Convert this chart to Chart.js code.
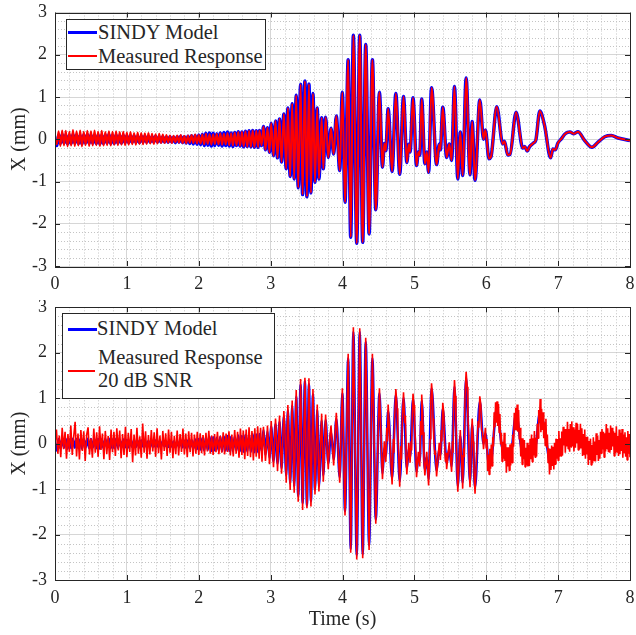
<!DOCTYPE html>
<html>
<head>
<meta charset="utf-8">
<script src="https://cdn.jsdelivr.net/npm/chart.js@4.4.1/dist/chart.umd.min.js"></script>
<style>
  body { margin: 0; background: #fff; }
  #wrap { position: relative; width: 636px; height: 635px; font-family: 'Liberation Serif', 'Times New Roman', serif; color: #262626; }
  canvas { position: absolute; left: 0; }
  .legend { position: absolute; box-sizing: border-box; border: 1px solid #262626; background: #fff; }
  .legend .line { position: absolute; }
  .legend .txt { position: absolute; font-size: 20.5px; line-height: 20px; white-space: nowrap; }
</style>
</head>
<body>
<div id="wrap">
  <canvas id="topChart" width="636" height="300" style="top:0"></canvas>
  <canvas id="bottomChart" width="636" height="335" style="top:300px"></canvas>

  <div class="legend" style="left:66px;top:19px;width:200px;height:51px">
    <div class="line" style="left:1px;top:11px;width:29px;height:3px;background:#0000ff"></div>
    <div class="txt" style="left:31px;top:2px">SINDY Model</div>
    <div class="line" style="left:1px;top:35px;width:29px;height:2px;background:#ff0000"></div>
    <div class="txt" style="left:31px;top:26px">Measured Response</div>
  </div>

  <div class="legend" style="left:62px;top:313px;width:213px;height:86px">
    <div class="line" style="left:5px;top:14px;width:29px;height:3px;background:#0000ff"></div>
    <div class="txt" style="left:34px;top:4px">SINDY Model</div>
    <div class="line" style="left:5px;top:56px;width:27px;height:2px;background:#ff0000"></div>
    <div class="txt" style="left:35px;top:33px">Measured Response</div>
    <div class="txt" style="left:35px;top:56px">20 dB SNR</div>
  </div>
</div>

<script>
// axes limits
const xTickMin = 0, xTickMax = 8;
const yTickMin = -3, yTickMax = 3;

// 0 - 2.8 s, one value every 0.025 s (fast low-level oscillation)
const earlyStep = 0.025;
const sindyEarly = [
  0.00, -0.15, 0.10, -0.10, 0.11, -0.09, 0.10, -0.11, 0.09, -0.10,
  0.11, -0.09, 0.10, -0.10, 0.09, -0.11, 0.10, -0.09, 0.11, -0.10,
  0.10, -0.09, 0.09, -0.10, 0.10, -0.11, 0.09, -0.10, 0.10, -0.09,
  0.11, -0.10, 0.09, -0.10, 0.10, -0.09, 0.08, -0.09, 0.09, -0.08,
  0.08,
  -0.08, 0.07, -0.07, 0.08, -0.07, 0.06, -0.08, 0.07, -0.06, 0.07,
  -0.07, 0.06, -0.07, 0.06, -0.06, 0.07, -0.06, 0.05, -0.06, 0.06,
  -0.06, 0.05, -0.07, 0.06, -0.06, 0.05, -0.08, 0.06, -0.07, 0.07,
  -0.08, 0.06, -0.09, 0.07, -0.10, 0.08, -0.11, 0.09, -0.12, 0.10,
  -0.13, 0.12, -0.15, 0.14, -0.14, 0.15, -0.16, 0.14, -0.15, 0.13,
  -0.14, 0.15, -0.16, 0.16, -0.15, 0.17, -0.16, 0.15, -0.17, 0.16,
  -0.15, 0.18, -0.16, 0.17, -0.18, 0.19, -0.17, 0.20, -0.18, 0.21,
  -0.19, 0.20
];
const measuredEarly = [
  0.00, -0.12, 0.19, -0.16, 0.21, -0.15, 0.20, -0.17, 0.18, -0.15,
  0.22, -0.16, 0.19, -0.15, 0.21, -0.17, 0.18, -0.14, 0.20, -0.16,
  0.19, -0.15, 0.21, -0.14, 0.18, -0.16, 0.20, -0.15, 0.17, -0.14,
  0.19, -0.15, 0.18, -0.13, 0.19, -0.14, 0.17, -0.13, 0.18, -0.14,
  0.16,
  -0.13, 0.17, -0.12, 0.15, -0.13, 0.16, -0.11, 0.15, -0.12, 0.14,
  -0.11, 0.15, -0.10, 0.13, -0.11, 0.12, -0.10, 0.13, -0.09, 0.11,
  -0.09, 0.10, -0.08, 0.09, -0.09, 0.08, -0.07, 0.09, -0.08, 0.10,
  -0.09, 0.08, -0.10, 0.09, -0.08, 0.10, -0.09, 0.11, -0.10, 0.10,
  -0.10, 0.11, -0.12, 0.13, -0.11, 0.12, -0.13, 0.12, -0.11, 0.13,
  -0.12, 0.14, -0.13, 0.13, -0.12, 0.15, -0.14, 0.14, -0.15, 0.16,
  -0.14, 0.17, -0.16, 0.18, -0.17, 0.19, -0.18, 0.20, -0.18, 0.21,
  -0.19, 0.20
];

// after 2.8 s: peaks and troughs (model and clean measurement coincide)
const peakTimes = [
  2.826, 2.845, 2.873, 2.901, 2.928, 2.956, 2.984, 3.008, 3.040, 3.068,
  3.096, 3.124, 3.152, 3.184, 3.217, 3.240, 3.272, 3.300, 3.328, 3.356,
  3.384, 3.417, 3.445, 3.477, 3.505, 3.533, 3.561, 3.589, 3.617, 3.649,
  3.672, 3.710, 3.733, 3.765, 3.802, 3.840, 3.877, 3.914, 3.961, 3.998,
  4.035, 4.079, 4.114, 4.151, 4.198, 4.240, 4.281, 4.323, 4.370, 4.416,
  4.463, 4.514, 4.556, 4.582, 4.603, 4.635, 4.690, 4.742, 4.796, 4.849,
  4.895, 4.922, 4.940, 4.981, 5.030, 5.055, 5.075, 5.102, 5.146, 5.172,
  5.198, 5.239, 5.309, 5.346, 5.362, 5.395, 5.449, 5.485, 5.518, 5.558,
  5.604, 5.639, 5.672, 5.720, 5.774, 5.804, 5.844, 5.910, 5.962, 5.988,
  6.038, 6.065, 6.146, 6.229, 6.253, 6.299, 6.330, 6.415, 6.508, 6.536,
  6.569, 6.601, 6.657, 6.690, 6.745, 6.811, 6.895, 6.927, 6.960, 6.997,
  7.044, 7.099, 7.165, 7.220, 7.276, 7.369, 7.471, 7.555, 7.648, 7.741,
  7.834, 8.000
];
const peakValues = [
  -0.19, 0.21, -0.15, 0.30, -0.25, 0.27, -0.31, 0.38, -0.39, 0.43,
  -0.44, 0.48, -0.54, 0.60, -0.70, 0.74, -0.88, 0.84, -0.94, 1.04,
  -1.15, 1.30, -1.31, 1.38, -1.36, 1.31, -1.27, 1.08, -1.02, 0.74,
  -0.94, 0.51, -0.70, 0.52, -0.43, 0.26, -0.35, 0.55, -0.74, 1.11,
  -1.49, 1.88, -2.32, 2.46, -2.46, 2.46, -2.44, 2.24, -2.24, 1.88,
  -1.67, 1.11, -0.66, -0.10, -0.27, 0.72, -0.76, 1.08, -0.83, 1.01,
  -0.55, -0.12, -0.30, 0.98, -0.62, -0.30, -0.38, 0.95, -0.58, -0.30,
  -0.78, 1.22, -0.60, -0.12, -0.25, 0.76, -0.43, -0.11, -0.50, 1.25,
  -0.94, 0.17, -0.86, 1.45, -0.84, 0.42, -0.97, 0.93, 0.00, 0.22,
  -0.46, -0.42, 0.77, -0.11, -0.05, -0.37, -0.36, 0.64, -0.21, -0.17,
  -0.28, -0.18, -0.09, -0.02, 0.67, 0.33, -0.44, -0.23, -0.25, -0.09,
  0.01, 0.13, 0.17, 0.13, 0.18, -0.03, -0.19, -0.07, 0.06, 0.09,
  0.03, -0.03
];

// 20 dB SNR record: 0 - 2.9 s every 0.02 s
const noisyStep = 0.02;
const noisyStart = [
  0.02, 0.31, -0.22, 0.18, -0.30, 0.35, -0.12, 0.26, -0.33, 0.21,
  -0.18, 0.40, -0.25, 0.15, 0.48, -0.28, 0.22, -0.35, 0.30, -0.16,
  0.27, -0.38, 0.19, 0.36, -0.24, 0.12, -0.31, 0.33, -0.20, 0.25,
  -0.29, 0.38, -0.14, 0.22, -0.34, 0.28, -0.23, 0.17, -0.36, 0.31,
  -0.19, 0.26, -0.27, 0.34, -0.15, 0.29, -0.32, 0.21, -0.25, 0.37,
  -0.30,
  0.24, -0.18, 0.32, -0.41, 0.20, -0.26, 0.35, -0.22, 0.16, -0.31,
  0.44, -0.20, 0.27, -0.33, 0.19, -0.24, 0.30, -0.17, 0.25, -0.29,
  0.34, -0.21, 0.18, -0.35, 0.28, -0.16, 0.23, -0.27, 0.31, -0.20,
  0.26, -0.32, 0.17, -0.23, 0.29, -0.26, 0.21, -0.18, 0.33, -0.24,
  0.22, -0.30, 0.27, -0.19, 0.24, -0.28, 0.20, -0.22, 0.26, -0.25,
  0.23, -0.21, 0.19, -0.26, 0.24, -0.17, 0.28, -0.22, 0.18, -0.25,
  0.21, -0.19, 0.26, -0.23, 0.17, -0.20, 0.25, -0.24, 0.22, -0.18,
  0.27, -0.26, 0.20, -0.28, 0.30, -0.22, 0.26, -0.31, 0.33, -0.25,
  0.29, -0.34, 0.31, -0.27, 0.36, -0.30, 0.28, -0.37, 0.34, -0.29,
  0.38, -0.33, 0.35, -0.40, 0.37
];
// 2.9 - 6.0 s: noisy turning points [t, x]
const noisyMid = [
  [2.928, -0.38], [2.945, -0.02], [2.956, 0.40], [2.984, -0.45], [2.996, -0.10],
  [3.008, 0.50], [3.040, -0.52], [3.068, 0.55], [3.082, 0.12], [3.096, -0.60],
  [3.124, 0.62], [3.152, -0.66], [3.184, 0.72], [3.200, 0.20], [3.217, -0.86],
  [3.240, 0.85], [3.272, -1.02], [3.300, 0.95], [3.328, -1.08], [3.356, 1.18],
  [3.384, -1.28], [3.417, 1.42], [3.445, -1.46], [3.477, 1.45], [3.505, -1.42],
  [3.533, 1.44], [3.561, -1.38], [3.589, 1.20], [3.617, -1.12], [3.649, 0.86],
  [3.672, -1.05], [3.710, 0.66], [3.733, -0.84], [3.765, 0.64], [3.785, -0.10],
  [3.802, -0.56], [3.820, 0.05], [3.840, 0.40], [3.877, -0.48], [3.895, 0.15],
  [3.914, 0.68], [3.961, -0.86], [3.998, 1.22], [4.035, -1.58], [4.079, 1.98],
  [4.114, -2.40], [4.151, 2.56], [4.198, -2.55], [4.240, 2.54], [4.281, -2.52],
  [4.323, 2.33], [4.370, -2.34], [4.416, 1.98], [4.463, -1.76], [4.514, 1.22],
  [4.556, -0.78], [4.582, 0.05], [4.603, -0.40], [4.617, 0.35], [4.626, 0.05],
  [4.635, 0.86], [4.660, 0.10], [4.690, -0.90], [4.708, 0.10], [4.716, -0.20],
  [4.726, 0.55], [4.742, 1.20], [4.760, 0.78], [4.768, 0.30], [4.780, -0.20],
  [4.796, -0.95], [4.812, -0.05], [4.820, -0.35], [4.834, 0.60], [4.849, 1.13],
  [4.866, 0.45], [4.875, 0.62], [4.885, -0.30], [4.895, -0.68], [4.922, 0.02],
  [4.940, -0.42], [4.955, 0.05], [4.962, -0.15], [4.970, 0.60], [4.981, 1.10],
  [4.995, 0.85], [5.003, 0.40], [5.015, 0.05], [5.030, -0.74], [5.055, -0.18],
  [5.075, -0.50], [5.088, 0.50], [5.094, 0.20], [5.102, 1.08], [5.115, 0.65],
  [5.122, 0.25], [5.133, -0.35], [5.146, -0.70], [5.172, -0.18], [5.198, -0.92],
  [5.212, -0.15], [5.220, 0.10], [5.229, 0.95], [5.239, 1.33], [5.252, 1.05],
  [5.260, 0.55], [5.270, 0.10], [5.285, -0.25], [5.292, -0.15], [5.309, -0.72],
  [5.346, 0.02], [5.362, -0.36], [5.375, 0.30], [5.382, 0.05], [5.395, 0.90],
  [5.408, 0.70], [5.420, 0.05], [5.432, -0.40], [5.440, -0.20], [5.449, -0.56],
  [5.485, 0.03], [5.518, -0.62], [5.530, 0.05], [5.537, -0.20], [5.546, 0.80],
  [5.558, 1.40], [5.570, 1.05], [5.578, 0.50], [5.590, -0.35], [5.604, -1.06],
  [5.618, -0.55], [5.626, -0.20], [5.639, 0.30], [5.652, -0.25], [5.660, -0.45],
  [5.672, -0.99], [5.686, -0.10], [5.694, -0.30], [5.705, 1.05], [5.720, 1.58],
  [5.735, 1.25], [5.744, 0.60], [5.756, 0.20], [5.764, -0.60], [5.774, -0.96],
  [5.804, 0.55], [5.818, 0.05], [5.826, -0.45], [5.844, -1.10], [5.875, 0.10],
  [5.888, 0.50], [5.897, 0.35], [5.910, 1.04], [5.925, 0.85], [5.935, 0.30],
  [5.947, 0.25], [5.962, -0.12], [5.988, 0.35], [6.000, -0.10]
];
// 6.01 - 8.0 s every 0.01 s
const noisyEndStep = 0.01;
const noisyEnd = [
  0.10, -0.60, -0.24, -0.68, -0.11, -0.55, -0.02, -0.49, 0.14, -0.06,
  0.69, 0.36, 0.91, 0.46, 0.93, 0.39, 0.87, 0.24, 0.65, -0.02,
  0.24, -0.39, 0.04, -0.33, 0.24, -0.38, -0.01, -0.64, -0.08, -0.50,
  -0.08, -0.59, -0.02, -0.48, 0.01, -0.42, 0.20, -0.07, 0.68, 0.32,
  0.79, 0.29, 0.86, 0.26, 0.74, 0.09, 0.35, -0.28, 0.12, -0.46,
  0.12, -0.34, 0.08, -0.51, -0.09, -0.48, 0.02, -0.50, -0.03, -0.49,
  0.11, -0.34, 0.20, -0.40, 0.12, -0.26, 0.28, -0.30, 0.13, -0.28,
  0.44, 0.12, 0.74, 0.45, 0.98, 0.25, 0.77, 0.30, 0.69, 0.12,
  0.47, -0.04, 0.55, -0.09, 0.20, -0.42, -0.10, -0.68, -0.11, -0.58,
  -0.04, -0.49, -0.07, -0.57, 0.02, -0.45, 0.11, -0.33, 0.10, -0.37,
  0.28, -0.29, 0.12, -0.27, 0.27, -0.26, 0.37, -0.04, 0.32, -0.20,
  0.32, -0.06, 0.48, -0.11, 0.32, -0.18, 0.43, -0.07, 0.49, -0.05,
  0.36, -0.17, 0.31, -0.09, 0.46, 0.01, 0.43, -0.14, 0.30, -0.12,
  0.44, -0.09, 0.34, -0.27, 0.21, -0.24, 0.31, -0.33, 0.15, -0.24,
  0.15, -0.47, 0.06, -0.36, 0.11, -0.47, -0.03, -0.43, 0.14, -0.37,
  0.05, -0.39, 0.23, -0.25, 0.17, -0.38, 0.08, -0.33, 0.26, -0.21,
  0.32, -0.13, 0.26, -0.30, 0.23, -0.17, 0.43, -0.11, 0.34, -0.19,
  0.24, -0.20, 0.40, -0.14, 0.35, -0.06, 0.27, -0.27, 0.24, -0.21,
  0.38, -0.18, 0.17, -0.27, 0.31, -0.23, 0.24, -0.16, 0.32, -0.31,
  0.20, -0.20, 0.25, -0.29, 0.14, -0.36, 0.28, -0.22, 0.21, -0.30
];

// ---- build point lists ----
function stepped(values, t0, dt) {
  return values.map((v, i) => ({ x: +(t0 + i * dt).toFixed(3), y: v }));
}
function paired(times, values) {
  return times.map((t, i) => ({ x: t, y: values[i] }));
}
const peaks = paired(peakTimes, peakValues);
const modelPts = stepped(sindyEarly, 0, earlyStep).concat(peaks);
const measuredPts = stepped(measuredEarly, 0, earlyStep).concat(peaks);
const noisyPts = stepped(noisyStart, 0, noisyStep)
  .concat(noisyMid.map(p => ({ x: p[0], y: p[1] })))
  .concat(stepped(noisyEnd, 6 + noisyEndStep, noisyEndStep));

const FONT = "'Liberation Serif', 'Times New Roman', serif";
const INK = '#262626';

// minor dotted grid, box and inward ticks like a MATLAB axes
const matlabBox = {
  id: 'matlabBox',
  beforeDatasetsDraw(chart) {
    const { ctx, chartArea: a } = chart;
    const xs = chart.scales.x, ys = chart.scales.y;
    ctx.save();
    ctx.strokeStyle = '#c4c4c4';
    ctx.lineWidth = 1;
    ctx.setLineDash([1, 2]);
    ctx.beginPath();
    for (let i = 1; i < 40; i++) {
      if (i % 5 === 0) continue;
      const px = Math.round(xs.getPixelForValue(i / 5)) + 0.5;
      ctx.moveTo(px, a.top);
      ctx.lineTo(px, a.bottom);
    }
    for (let i = -14; i < 15; i++) {
      if (i % 5 === 0) continue;
      const py = Math.round(ys.getPixelForValue(i / 5)) + 0.5;
      ctx.moveTo(a.left, py);
      ctx.lineTo(a.right, py);
    }
    ctx.stroke();
    ctx.restore();
  },
  afterDatasetsDraw(chart) {
    const { ctx, chartArea: a } = chart;
    const xs = chart.scales.x, ys = chart.scales.y;
    const len = 5;
    ctx.save();
    ctx.strokeStyle = INK;
    ctx.lineWidth = 1;
    ctx.beginPath();
    for (let v = xTickMin; v <= xTickMax; v++) {
      const px = Math.round(xs.getPixelForValue(v)) + 0.5;
      ctx.moveTo(px, a.bottom); ctx.lineTo(px, a.bottom - len);
      ctx.moveTo(px, a.top); ctx.lineTo(px, a.top + len);
    }
    for (let v = yTickMin; v <= yTickMax; v++) {
      const py = Math.round(ys.getPixelForValue(v)) + 0.5;
      ctx.moveTo(a.left, py); ctx.lineTo(a.left + len, py);
      ctx.moveTo(a.right, py); ctx.lineTo(a.right - len, py);
    }
    ctx.stroke();
    ctx.strokeRect(Math.round(a.left) + 0.5, Math.round(a.top) + 0.5,
                   Math.round(a.right - a.left), Math.round(a.bottom - a.top));
    ctx.restore();
  }
};

function makeChart(id, datasets, opt) {
  return new Chart(document.getElementById(id), {
    type: 'line',
    data: { datasets },
    options: {
      responsive: false,
      animation: false,
      events: [],
      layout: { padding: { top: opt.top, right: 6, left: 0, bottom: 0 } },
      plugins: { legend: { display: false }, tooltip: { enabled: false } },
      elements: { point: { radius: 0 } },
      scales: {
        x: {
          type: 'linear', min: xTickMin, max: xTickMax,
          afterFit(s) { s.height = opt.xHeight; s.paddingLeft = 0; s.paddingRight = 0; },
          border: { display: false },
          grid: { color: '#d6d6d6', lineWidth: 1, drawTicks: false },
          ticks: { stepSize: 1, padding: 7, maxRotation: 0, color: INK,
                   font: { family: FONT, size: 18 } },
          title: { display: !!opt.xTitle, text: opt.xTitle || '', color: INK,
                   padding: { top: 0, bottom: 3 },
                   font: { family: FONT, size: 20 } }
        },
        y: {
          type: 'linear', min: yTickMin, max: yTickMax,
          afterFit(s) { s.width = 55; s.paddingTop = 0; s.paddingBottom = 0; },
          border: { display: false },
          grid: { color: '#d6d6d6', lineWidth: 1, drawTicks: false },
          ticks: { stepSize: 1, padding: 8, color: INK,
                   font: { family: FONT, size: 18 } },
          title: { display: true, text: 'X (mm)', color: INK,
                   padding: { top: 8, bottom: 0 },
                   font: { family: FONT, size: 20 } }
        }
      }
    },
    plugins: [matlabBox]
  });
}

makeChart('topChart', [
  { label: 'Measured Response', data: measuredPts, borderColor: '#ff0000',
    borderWidth: 2, cubicInterpolationMode: 'monotone', order: 0 },
  { label: 'SINDY Model', data: modelPts, borderColor: '#0000ff',
    borderWidth: 3.5, cubicInterpolationMode: 'monotone', order: 1 }
], { top: 12.5, xHeight: 34 });

makeChart('bottomChart', [
  { label: 'Measured Response 20 dB SNR', data: noisyPts, borderColor: '#ff0000',
    borderWidth: 1.6, borderJoinStyle: 'bevel', order: 0 },
  { label: 'SINDY Model', data: modelPts, borderColor: '#0000ff',
    borderWidth: 2.5, cubicInterpolationMode: 'monotone', order: 1 }
], { top: 7.3, xHeight: 55, xTitle: 'Time (s)' });
</script>
</body>
</html>
